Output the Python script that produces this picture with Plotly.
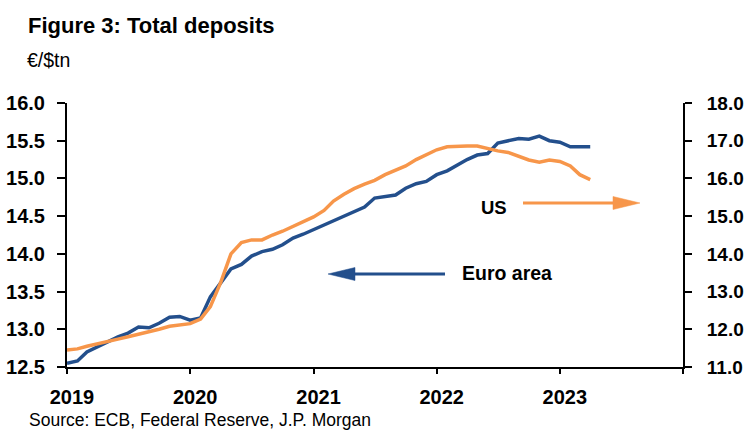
import pandas as pd
import plotly.graph_objects as go

months = pd.date_range("2019-01-01", "2023-04-01", freq="MS")

euro_area = [12.55, 12.58, 12.70, 12.77, 12.83, 12.90, 12.95, 13.03, 13.02, 13.08, 13.16, 13.17,
             13.12, 13.15, 13.43, 13.62, 13.80, 13.86, 13.97, 14.03, 14.06, 14.12, 14.21, 14.26,
             14.32, 14.38, 14.44, 14.50, 14.56, 14.62, 14.74, 14.76, 14.78, 14.87, 14.93, 14.96,
             15.05, 15.10, 15.17, 15.25, 15.31, 15.33, 15.47, 15.50, 15.53, 15.52, 15.56, 15.50,
             15.48, 15.42, 15.42, 15.42]

us = [11.45, 11.48, 11.55, 11.62, 11.68, 11.74, 11.80, 11.86, 11.92, 12.00, 12.08, 12.12,
      12.15, 12.27, 12.60, 13.25, 14.00, 14.30, 14.37, 14.37, 14.50, 14.60, 14.72, 14.85,
      14.98, 15.15, 15.40, 15.58, 15.73, 15.85, 15.95, 16.10, 16.22, 16.33, 16.50, 16.64,
      16.76, 16.84, 16.86, 16.86, 16.86, 16.79, 16.73, 16.69, 16.58, 16.49, 16.43, 16.49,
      16.45, 16.33, 16.10, 15.97]

year_ticks = ["2019-01-01", "2020-01-01", "2021-01-01", "2022-01-01", "2023-01-01", "2024-01-01"]
year_labels = ["2019", "2020", "2021", "2022", "2023", ""]

left_ticks = [12.5, 13.0, 13.5, 14.0, 14.5, 15.0, 15.5, 16.0]
right_ticks = [11.0, 12.0, 13.0, 14.0, 15.0, 16.0, 17.0, 18.0]

BLUE = "#234F8C"
ORANGE = "#F7964A"
FONT = "Liberation Sans, Arial, sans-serif"

W, H = 746, 430
L, R, T, B = 67, 63, 103, 63
pw, ph = W - L - R, H - T - B


def px(x):
    return (x - L) / pw


def py(y):
    return (H - B - y) / ph


fig = go.Figure()
fig.add_trace(go.Scatter(x=months, y=euro_area, mode="lines", name="Euro area",
                         line=dict(color=BLUE, width=3.5), yaxis="y"))
fig.add_trace(go.Scatter(x=months, y=us, mode="lines", name="US",
                         line=dict(color=ORANGE, width=3.5), yaxis="y2"))

axis_common = dict(showgrid=False, zeroline=False, showline=True, linecolor="black",
                   linewidth=2, ticks="outside", tickcolor="black", tickwidth=2,
                   automargin=False)


def tf(size):
    return dict(family=FONT, size=size, color="black", weight="bold")


fig.update_layout(
    width=W, height=H,
    margin=dict(l=L, r=R, t=T, b=B, autoexpand=False),
    paper_bgcolor="white", plot_bgcolor="white",
    showlegend=False,
    xaxis=dict(type="date", range=["2019-01-01", "2024-01-01"],
               tickvals=year_ticks, ticktext=year_labels, ticklen=5,
               ticklabelshift=5, ticklabelstandoff=6, tickfont=tf(20), **axis_common),
    yaxis=dict(range=[12.5, 16.0], tickvals=left_ticks, tickformat=".1f",
               ticklen=8, ticklabelstandoff=8, tickfont=tf(20), **axis_common),
    yaxis2=dict(range=[11.0, 18.0], tickvals=right_ticks, tickformat=".1f",
                overlaying="y", side="right", anchor="x", ticklen=7,
                ticklabelstandoff=11, tickfont=tf(19), **axis_common),
)

fig.add_annotation(text="<b>Figure 3: Total deposits</b>", x=px(26), y=py(25),
                   xref="paper", yref="paper", xanchor="left", yanchor="middle",
                   showarrow=False, font=dict(family=FONT, size=22, color="black"))
fig.add_annotation(text="€/$tn", x=px(25), y=py(60),
                   xref="paper", yref="paper", xanchor="left", yanchor="middle",
                   showarrow=False, font=dict(family=FONT, size=19.5, color="black"))
fig.add_annotation(text="Source: ECB, Federal Reserve, J.P. Morgan", x=px(27), y=py(420),
                   xref="paper", yref="paper", xanchor="left", yanchor="middle",
                   showarrow=False, font=dict(family=FONT, size=17.5, color="black"))

# series labels
fig.add_annotation(text="<b>US</b>", x=px(494), y=py(207), xref="paper", yref="paper",
                   xanchor="center", yanchor="middle", showarrow=False,
                   font=dict(family=FONT, size=18.5, color="black"))
fig.add_annotation(text="<b>Euro area</b>", x=px(507), y=py(273), xref="paper", yref="paper",
                   xanchor="center", yanchor="middle", showarrow=False,
                   font=dict(family=FONT, size=19.5, color="black"))


# arrows drawn as shaft + narrow triangular head (positions in page pixels)
def arrow(x_tail, x_head, y, color):
    d = 1 if x_head > x_tail else -1
    head_len, half_h = 27, 6.5
    x_base = x_head - d * head_len
    fig.add_shape(type="line", xref="paper", yref="paper",
                  x0=px(x_tail), x1=px(x_base + d * 2), y0=py(y), y1=py(y),
                  line=dict(color=color, width=3))
    path = "M {:.5f},{:.5f} L {:.5f},{:.5f} L {:.5f},{:.5f} Z".format(
        px(x_head), py(y), px(x_base), py(y - half_h), px(x_base), py(y + half_h))
    fig.add_shape(type="path", xref="paper", yref="paper", path=path,
                  fillcolor=color, line=dict(color=color, width=0.5))


arrow(523, 640, 203, ORANGE)
arrow(445, 328, 274, BLUE)

fig.write_html("out.html", config={"displayModeBar": False},
               post_script="document.body.style.margin='0px';")
